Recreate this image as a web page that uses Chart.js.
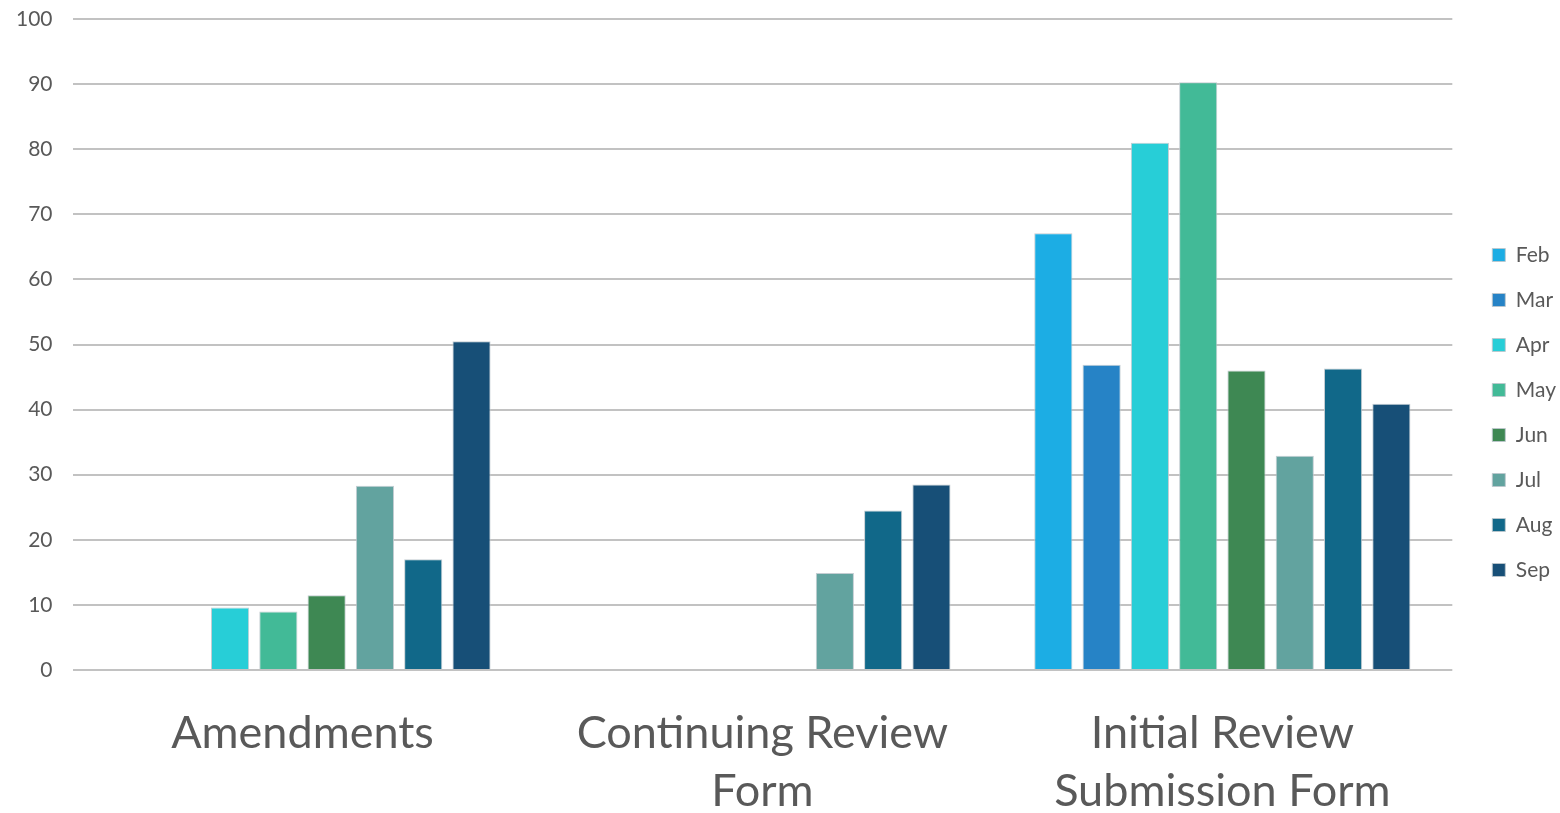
<!DOCTYPE html>
<html>
<head>
<meta charset="utf-8">
<script src="https://cdn.jsdelivr.net/npm/chart.js@4.4.1/dist/chart.umd.min.js"></script>
<style>
  html, body { margin: 0; padding: 0; background: #ffffff; }
  #wrap { width: 1560px; height: 813px; }
</style>
</head>
<body>
<div id="wrap"><canvas id="c" width="1560" height="813"></canvas></div>
<script>
// Form categories (multi-line labels)
const categories = [
  ["Amendments"],
  ["Continuing Review", "Form"],
  ["Initial Review", "Submission Form"]
];

// Monthly submission counts per form type
const months = ["Feb", "Mar", "Apr", "May", "Jun", "Jul", "Aug", "Sep"];
const febValues = [null, null, 67.1];
const marValues = [null, null, 46.9];
const aprValues = [9.6, null, 81.0];
const mayValues = [9.0, null, 90.3];
const junValues = [11.5, null, 46.0];
const julValues = [28.3, 14.9, 32.9];
const augValues = [17.0, 24.5, 46.3];
const sepValues = [50.5, 28.5, 40.9];

const yTicks = [0, 10, 20, 30, 40, 50, 60, 70, 80, 90, 100];

const seriesColors = ["#1CADE4", "#2683C6", "#27CED7", "#42BA97", "#3E8853", "#62A39F", "#116889", "#174F77"];
const seriesValues = [febValues, marValues, aprValues, mayValues, junValues, julValues, augValues, sepValues];

const FONT = "Lato, 'Open Sans', sans-serif";
const TEXT = "#595959";

new Chart(document.getElementById("c"), {
  type: "bar",
  data: {
    labels: categories,
    datasets: months.map((m, i) => ({
      label: m,
      data: seriesValues[i],
      backgroundColor: seriesColors[i],
      borderColor: "rgba(190,200,205,0.9)",
      borderWidth: 1,
      categoryPercentage: 0.84,
      barPercentage: 0.79
    }))
  },
  options: {
    responsive: false,
    animation: false,
    layout: { padding: { top: 12, right: -6, left: -4, bottom: 0 } },
    plugins: {
      tooltip: { enabled: false },
      legend: {
        position: "right",
        labels: {
          boxWidth: 13,
          boxHeight: 13,
          padding: 24,
          color: TEXT,
          font: { family: FONT, size: 21 }
        }
      }
    },
    scales: {
      x: {
        grid: { display: false, drawTicks: false },
        border: { display: false },
        ticks: {
          color: TEXT,
          padding: 34,
          maxRotation: 0,
          font: { family: FONT, size: 45, lineHeight: 1.29 }
        },
        afterFit: (scale) => { scale.height = 143; }
      },
      y: {
        min: 0,
        max: 100,
        afterBuildTicks: (axis) => { axis.ticks = yTicks.map(v => ({ value: v })); },
        afterFit: (scale) => { scale.paddingTop = 19; scale.paddingBottom = 0; },
        grid: { color: "#c2c2c2", lineWidth: 2, drawTicks: false },
        border: { display: false },
        ticks: {
          color: TEXT,
          padding: 20,
          font: { family: FONT, size: 21 }
        }
      },
      // empty spacer between the plot and the legend
      gap: {
        position: "right",
        display: true,
        grid: { display: false, drawTicks: false },
        border: { display: false },
        ticks: { display: false },
        afterFit: (scale) => { scale.width = 16; scale.paddingTop = 0; scale.paddingBottom = 0; }
      }
    }
  }
});
</script>
</body>
</html>
